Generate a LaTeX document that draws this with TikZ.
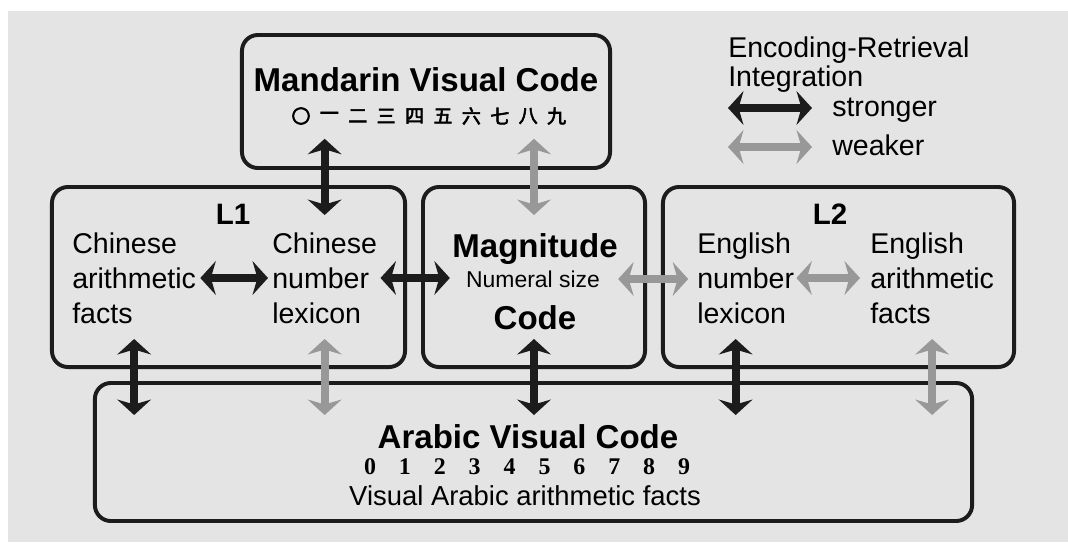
\documentclass[tikz,border=0pt]{standalone}
\usepackage{fontspec}
\setmainfont{Liberation Sans}
\newfontfamily\cjk[AutoFakeBold=3]{Noto Sans CJK SC}
\newfontfamily\digitfont{Liberation Serif}
\usetikzlibrary{arrows.meta}
\definecolor{paper}{RGB}{228,228,228}
\definecolor{inkdark}{RGB}{28,28,28}
\definecolor{inklight}{RGB}{152,152,152}
\tikzset{
  panel/.style={draw=inkdark, line width=2.8pt, rounded corners=0.4cm, inner sep=0pt},
  head/.style={font=\fontsize{23.5}{28}\selectfont\bfseries, inner sep=0pt},
  txt/.style={font=\fontsize{20.3}{24.9}\selectfont, align=left, inner sep=0pt},
  twoway/.style={line width=5.5pt, {Stealth[length=11pt,width=24pt,inset=3.5pt]}-{Stealth[length=11pt,width=24pt,inset=3.5pt]}},
  strong/.style={twoway, draw=inkdark},
  weak/.style={twoway, draw=inklight},
}

\begin{document}
\begin{tikzpicture}[x=0.025cm, y=-0.025cm]
\useasboundingbox (0,0) rectangle (1068,542);
\fill[paper] (8,11) rectangle (1068,542);
% boxes
\node[panel, minimum width=9.2cm, minimum height=3.325cm] (mvc) at (426,101.5) {};
\node[panel, minimum width=8.825cm, minimum height=4.5cm] (L1) at (228.5,277) {};
\node[panel, minimum width=5.55cm, minimum height=4.5cm] (magbox) at (534,277) {};
\node[panel, minimum width=8.775cm, minimum height=4.5cm] (L2) at (838.5,277) {};
\node[panel, minimum width=21.925cm, minimum height=3.45cm] (avc) at (533.5,452) {};
%
\node[head] (mvcT) at (426,80) {Mandarin Visual Code};
\foreach \c [count=\i from 0] in {〇,一,二,三,四,五,六,七,八,九}
  \node[inner sep=0pt, font=\fontsize{13.5}{14}\cjk\bfseries] (zh\i) at (301+28.4*\i,116) {\c};
%
\node[head, font=\fontsize{21}{24}\selectfont\bfseries] (L1T) at (233,214) {L1};
\node[txt, anchor=west] (caf) at (72,278) {Chinese\\arithmetic\\facts};
\node[txt, anchor=west] (cnl) at (272,278) {Chinese\\number\\lexicon};
%
\node[head, anchor=base] (magT) at (535,257) {Magnitude};
\node[inner sep=0pt, font=\fontsize{16.3}{18}\selectfont] (magN) at (533,279) {Numeral size};
\node[head, anchor=base] (magC) at (535,329) {Code};
%
\node[head, font=\fontsize{21}{24}\selectfont\bfseries] (L2T) at (830,214) {L2};
\node[txt, anchor=west] (eln) at (697,278) {English\\number\\lexicon};
\node[txt, anchor=west] (eaf) at (870,278) {English\\arithmetic\\facts};
%
\node[head] (avcT) at (528,437) {Arabic Visual Code};
\foreach \d in {0,...,9}
  \node[inner sep=0pt, font=\fontsize{17}{17}\digitfont\bfseries] (ar\d) at (370+34.9*\d,467) {\d};
\node[inner sep=0pt, font=\fontsize{19.5}{22}\selectfont] (avcF) at (525,496) {Visual Arabic arithmetic facts};
%
\node[txt, anchor=base west] (lgT1) at (728,57) {Encoding-Retrieval};
\node[txt, anchor=base west] (lgT2) at (728,86) {Integration};
\node[txt, anchor=base west] (lgS) at (832,116) {stronger};
\node[txt, anchor=base west] (lgW) at (832,155) {weaker};
\coordinate (keyS) at (728,108);
\coordinate (keyW) at (728,147);
\draw[strong, shorten >=0.5cm] (keyS) -- (keyS -| lgS.west);
\draw[weak, shorten >=0.5cm] (keyW) -- (keyW -| lgW.west);
%
\draw[strong, shorten <=-0.78cm, shorten >=-0.75cm] (mvc.south -| cnl) -- (L1.north -| cnl);
\draw[weak, shorten <=-0.78cm, shorten >=-0.75cm] (mvc.south -| magbox) -- (magbox.north);
\draw[strong, shorten <=0.1cm, shorten >=0.1cm] (caf.east) -- (cnl.west);
\draw[strong, shorten <=0.08cm, shorten >=0.4cm] (cnl.east) -- (cnl.east -| magN.west);
\draw[weak, shorten <=0.45cm, shorten >=0.22cm] (magN.east) -- (magN.east -| eln.west);
\draw[weak, shorten <=0.05cm, shorten >=0.25cm] (eln.east) -- (eaf.west);
%
\draw[strong, shorten <=-0.75cm, shorten >=-0.85cm] (L1.south -| caf) -- (avc.north -| caf);
\draw[weak, shorten <=-0.75cm, shorten >=-0.85cm] (L1.south -| cnl) -- (avc.north -| cnl);
\draw[strong, shorten <=-0.75cm, shorten >=-0.85cm] (magbox.south) -- (avc.north -| magbox);
\draw[strong, shorten <=-0.75cm, shorten >=-0.85cm] ([xshift=-0.25cm]L2.south -| eln) -- ([xshift=-0.25cm]avc.north -| eln);
\draw[weak, shorten <=-0.75cm, shorten >=-0.85cm] (L2.south -| eaf) -- (avc.north -| eaf);
\end{tikzpicture}
\end{document}
